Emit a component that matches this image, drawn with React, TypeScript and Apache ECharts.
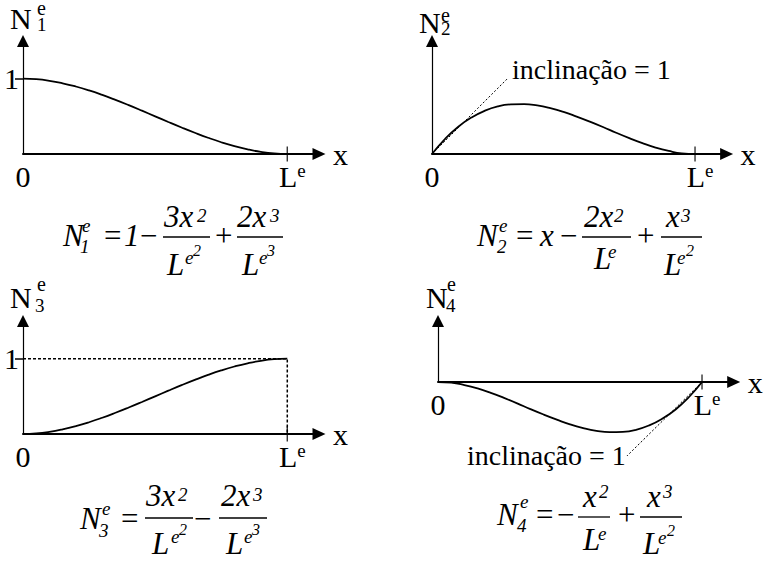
import React, { useEffect, useRef } from 'react';
import * as echarts from 'echarts';

// Sample positions along the element, as a fraction of L^e
const xSamples = [0, 0.05, 0.1, 0.15, 0.2, 0.25, 0.3, 0.35, 0.4, 0.45, 0.5, 0.55, 0.6, 0.65, 0.7, 0.75, 0.8, 0.85, 0.9, 0.95, 1];
// Shape function values at those positions (N2 and N4 in units of L^e)
const n1Values = [1, 0.993, 0.972, 0.939, 0.896, 0.844, 0.784, 0.718, 0.648, 0.575, 0.5, 0.425, 0.352, 0.282, 0.216, 0.156, 0.104, 0.061, 0.028, 0.007, 0];
const n2Values = [0, 0.045, 0.081, 0.108, 0.128, 0.141, 0.147, 0.148, 0.144, 0.136, 0.125, 0.111, 0.096, 0.08, 0.063, 0.047, 0.032, 0.019, 0.009, 0.002, 0];
const n3Values = [0, 0.007, 0.028, 0.061, 0.104, 0.156, 0.216, 0.282, 0.352, 0.425, 0.5, 0.575, 0.648, 0.718, 0.784, 0.844, 0.896, 0.939, 0.972, 0.993, 1];
const n4Values = [0, -0.002, -0.009, -0.019, -0.032, -0.047, -0.063, -0.08, -0.096, -0.111, -0.125, -0.136, -0.144, -0.148, -0.147, -0.141, -0.128, -0.108, -0.081, -0.045, 0];

// Dotted guides: end slopes of N2 / N4 and the unit level of N3
const n2SlopeGuide = [[0, 0], [0.285, 0.222]];
const n4SlopeGuide = [[1, 0], [0.716, -0.218]];
const n3UnitGuide = [[0, 1], [1, 1], [1, 0]];
// Element end x = L^e on the horizontal axis
const elementEnd = [[1, 0]];

const xTickValues = [0, 1];
const yTickValues = [1];
const slopeText = 'inclinação = 1';

const SERIF = 'Liberation Serif';

const panels = [
  { grid: { left: 23, top: 41, width: 296, height: 113 }, yMax: 1.5, values: n1Values, unitTick: true },
  { grid: { left: 432, top: 41, width: 294.6, height: 113 }, yMax: 0.335, values: n2Values, unitTick: false },
  { grid: { left: 23, top: 321, width: 296, height: 113 }, yMax: 1.5, values: n3Values, unitTick: true },
  { grid: { left: 438, top: 321, width: 295.7, height: 61 }, yMax: 0.18, values: n4Values, unitTick: false },
];

function textEl(t: string, x: number, base: number, size: number, italic = false) {
  return {
    type: 'text',
    silent: true,
    z: 10,
    style: {
      text: t,
      x,
      y: base - 0.3375 * size,
      fontFamily: SERIF,
      fontSize: size,
      fontStyle: italic ? 'italic' : 'normal',
      fill: '#000',
      textAlign: 'left',
      textVerticalAlign: 'middle',
    },
  };
}

function barEl(x1: number, x2: number, y: number) {
  return {
    type: 'line',
    silent: true,
    z: 10,
    shape: { x1, y1: y, x2, y2: y },
    style: { stroke: '#000', lineWidth: 1.3 },
  };
}

type Piece = [string, number, number, number, boolean];

// Axis titles N_i^e
const titlePieces: Piece[] = [
  ['N', 10, 29, 30, false], ['e', 37, 15, 20, false], ['1', 37, 31, 19, false],
  ['N', 419, 33, 30, false], ['e', 441, 22, 20, false], ['2', 441, 35, 19, false],
  ['N', 10, 308, 30, false], ['e', 37, 291, 20, false], ['3', 35, 312, 19, false],
  ['N', 426, 308, 30, false], ['e', 447, 291, 20, false], ['4', 446, 312, 19, false],
];

// Formulas under each plot
const formulaPieces: Piece[] = [
  // N1
  ['N', 63, 246, 31, true], ['e', 82, 232, 19, true], ['1', 80, 253, 19, true],
  ['=', 104, 246, 31, false], ['1', 124, 246, 31, true], ['\u2212', 140, 246, 31, false],
  ['3x', 164, 227, 31, true], ['2', 197, 222, 19, true],
  ['L', 167, 275, 31, true], ['e', 185, 264, 19, true], ['2', 193, 256, 16, true],
  ['+', 215, 246, 31, false],
  ['2x', 237, 227, 31, true], ['3', 270, 222, 19, true],
  ['L', 242, 275, 31, true], ['e', 259, 264, 19, true], ['3', 267, 256, 16, true],
  // N2
  ['N', 477, 246, 31, true], ['e', 499, 232, 19, true], ['2', 497, 253, 19, true],
  ['=', 516, 246, 31, false], ['x', 540, 246, 31, true], ['\u2212', 560, 246, 31, false],
  ['2x', 584, 227, 31, true], ['2', 614, 222, 19, true],
  ['L', 594, 269, 31, true], ['e', 608, 258, 19, true],
  ['+', 637, 246, 31, false],
  ['x', 666, 227, 31, true], ['3', 681, 222, 19, true],
  ['L', 664, 275, 31, true], ['e', 677, 264, 19, true], ['2', 686, 256, 16, true],
  // N3
  ['N', 80, 529, 31, true], ['e', 102, 515, 19, true], ['3', 99, 537, 19, true],
  ['=', 121, 529, 31, false],
  ['3x', 146, 506, 31, true], ['2', 178, 501, 19, true],
  ['L', 152, 554, 31, true], ['e', 171, 543, 19, true], ['2', 179, 535, 16, true],
  ['\u2212', 194, 529, 31, false],
  ['2x', 221, 506, 31, true], ['3', 253, 501, 19, true],
  ['L', 226, 554, 31, true], ['e', 244, 543, 19, true], ['3', 252, 535, 16, true],
  // N4
  ['N', 497, 525, 31, true], ['e', 520, 508, 19, true], ['4', 517, 532, 19, true],
  ['=', 536, 525, 31, false], ['\u2212', 557, 525, 31, false],
  ['x', 583, 507, 31, true], ['2', 599, 498, 19, true],
  ['L', 583, 550, 31, true], ['e', 598, 540, 19, true],
  ['+', 618, 525, 31, false],
  ['x', 647, 507, 31, true], ['3', 663, 498, 19, true],
  ['L', 643, 554, 31, true], ['e', 658, 544, 19, true], ['2', 667, 536, 16, true],
];

const fractionBars: [number, number, number][] = [
  [163, 210, 237], [237, 283, 237],
  [582, 631, 237], [661, 702, 237],
  [145, 193, 518], [219, 267, 518],
  [578, 610, 517], [640, 682, 517],
];

export default function App() {
  const ref = useRef<HTMLDivElement>(null);

  useEffect(() => {
    if (!ref.current) return;
    const chart = echarts.init(ref.current, null, { renderer: 'svg' });

    const axisText = { fontFamily: SERIF, fontSize: 30, color: '#000' };

    const xAxis = panels.map((p, i) => ({
      gridIndex: i,
      type: 'value',
      min: 0,
      max: 1.12,
      axisLine: {
        show: true,
        onZero: true,
        symbol: ['none', 'triangle'],
        symbolSize: [12, 13],
        lineStyle: { color: '#000', width: 2 },
      },
      axisTick: { show: false },
      splitLine: { show: false },
      axisLabel: {
        show: true,
        customValues: xTickValues,
        margin: 7,
        ...axisText,
        formatter: (v: number) => (v === 0 ? '0' : '{l|L}{e|e}'),
        rich: {
          l: { ...axisText, lineHeight: 30, padding: [0, 0, 0, 10] },
          e: { fontFamily: SERIF, fontSize: 19, color: '#000', lineHeight: 19, verticalAlign: 'top' },
        },
      },
      name: 'x',
      nameLocation: 'end',
      nameGap: 14,
      nameTextStyle: { ...axisText, padding: [0, 0, 7, 0] },
    }));

    const yAxis = panels.map((p, i) => ({
      gridIndex: i,
      type: 'value',
      min: 0,
      max: p.yMax,
      axisLine: {
        show: true,
        onZero: false,
        symbol: ['none', 'triangle'],
        symbolSize: [12, 12],
        lineStyle: { color: '#000', width: 1.2 },
      },
      axisTick: p.unitTick
        ? { show: true, customValues: yTickValues, length: 8, inside: false, lineStyle: { color: '#000', width: 1.5 } }
        : { show: false },
      axisLabel: p.unitTick
        ? { show: true, customValues: yTickValues, margin: 4, ...axisText }
        : { show: false },
      splitLine: { show: false },
    }));

    const series: any[] = [];
    panels.forEach((p, i) => {
      series.push({
        type: 'line',
        xAxisIndex: i,
        yAxisIndex: i,
        data: xSamples.map((x, j) => [x, p.values[j]]),
        smooth: true,
        showSymbol: false,
        clip: false,
        lineStyle: { color: '#000', width: 1.8 },
        z: 5,
      });
      series.push({
        type: 'scatter',
        xAxisIndex: i,
        yAxisIndex: i,
        data: elementEnd,
        symbol: 'rect',
        symbolSize: [1.4, 15],
        clip: false,
        itemStyle: { color: '#000' },
        z: 6,
      });
    });

    const dotted = (idx: number, data: number[][], width: number, dash: number[]) => ({
      type: 'line',
      xAxisIndex: idx,
      yAxisIndex: idx,
      data,
      showSymbol: false,
      clip: false,
      lineStyle: { color: '#000', width, type: dash },
      z: 4,
    });
    series.push(dotted(1, n2SlopeGuide, 1, [2, 2]));
    series.push(dotted(3, n4SlopeGuide, 1, [2, 2]));
    series.push(dotted(2, n3UnitGuide, 1.5, [3, 2]));

    const elements: any[] = [
      ...titlePieces.map(([t, x, b, s, it]) => textEl(t, x, b, s, it)),
      ...formulaPieces.map(([t, x, b, s, it]) => textEl(t, x, b, s, it)),
      ...fractionBars.map(([x1, x2, y]) => barEl(x1, x2, y)),
      textEl(slopeText, 512, 79, 28),
      textEl(slopeText, 467, 465, 28),
    ];

    chart.setOption({
      animation: false,
      backgroundColor: '#fff',
      grid: panels.map((p) => ({ ...p.grid, containLabel: false, outerBoundsMode: 'none' })),
      xAxis,
      yAxis,
      series,
      graphic: { elements },
    });

    return () => chart.dispose();
  }, []);

  return (
    <div
      ref={ref}
      style={{ position: 'fixed', left: 0, top: 0, width: 768, height: 561, background: '#fff' }}
    />
  );
}
